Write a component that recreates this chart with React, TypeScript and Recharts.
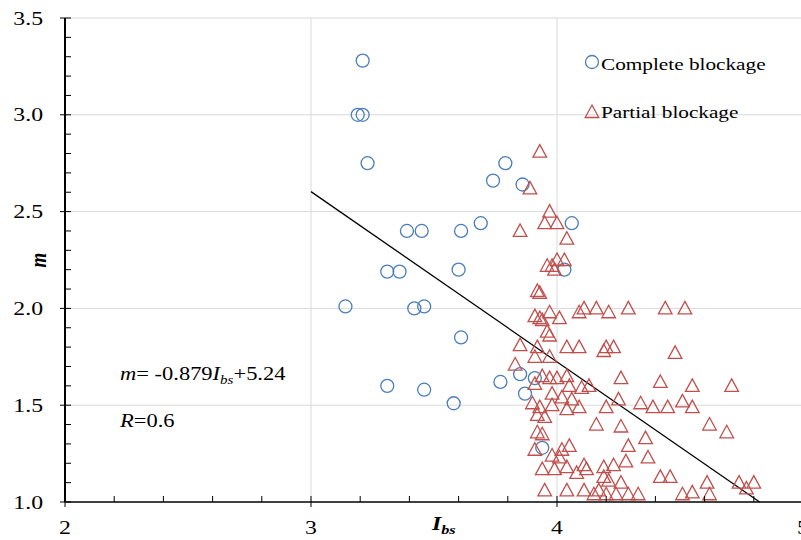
import React from "react";
import { ScatterChart, Scatter, XAxis, YAxis, ReferenceLine } from "recharts";

// I_bs vs m
const completeBlockage = [
  { ibs: 3.21, m: 3.28 }, { ibs: 3.19, m: 3.0 }, { ibs: 3.21, m: 3.0 }, { ibs: 3.23, m: 2.75 },
  { ibs: 3.79, m: 2.75 }, { ibs: 3.74, m: 2.66 }, { ibs: 3.86, m: 2.64 }, { ibs: 3.69, m: 2.44 },
  { ibs: 3.61, m: 2.4 }, { ibs: 3.45, m: 2.4 }, { ibs: 3.39, m: 2.4 }, { ibs: 4.06, m: 2.44 },
  { ibs: 3.31, m: 2.19 }, { ibs: 3.36, m: 2.19 }, { ibs: 3.6, m: 2.2 }, { ibs: 4.03, m: 2.2 },
  { ibs: 3.14, m: 2.01 }, { ibs: 3.42, m: 2.0 }, { ibs: 3.46, m: 2.01 }, { ibs: 3.61, m: 1.85 },
  { ibs: 3.31, m: 1.6 }, { ibs: 3.46, m: 1.58 }, { ibs: 3.58, m: 1.51 }, { ibs: 3.77, m: 1.62 },
  { ibs: 3.87, m: 1.56 }, { ibs: 3.94, m: 1.28 }, { ibs: 3.85, m: 1.66 }, { ibs: 3.91, m: 1.64 },
];

const partialBlockage = [
  { ibs: 3.93, m: 2.81 }, { ibs: 3.89, m: 2.62 }, { ibs: 3.97, m: 2.5 }, { ibs: 3.95, m: 2.44 },
  { ibs: 4.0, m: 2.44 }, { ibs: 3.85, m: 2.4 }, { ibs: 4.04, m: 2.36 }, { ibs: 4.0, m: 2.25 },
  { ibs: 4.03, m: 2.25 }, { ibs: 3.96, m: 2.22 }, { ibs: 3.98, m: 2.22 }, { ibs: 3.99, m: 2.2 },
  { ibs: 3.92, m: 2.09 }, { ibs: 3.93, m: 2.08 },
  { ibs: 3.91, m: 1.96 }, { ibs: 3.93, m: 1.95 }, { ibs: 3.94, m: 1.94 }, { ibs: 3.97, m: 1.98 },
  { ibs: 4.01, m: 1.95 }, { ibs: 3.96, m: 1.88 }, { ibs: 3.97, m: 1.86 },
  { ibs: 4.09, m: 1.98 }, { ibs: 4.11, m: 2.0 }, { ibs: 4.16, m: 2.0 }, { ibs: 4.21, m: 1.98 },
  { ibs: 4.29, m: 2.0 }, { ibs: 4.44, m: 2.0 }, { ibs: 4.52, m: 2.0 },
  { ibs: 3.85, m: 1.81 }, { ibs: 3.92, m: 1.8 }, { ibs: 4.04, m: 1.8 }, { ibs: 4.09, m: 1.8 },
  { ibs: 4.19, m: 1.78 }, { ibs: 4.2, m: 1.8 }, { ibs: 4.23, m: 1.8 }, { ibs: 4.48, m: 1.77 },
  { ibs: 3.83, m: 1.71 }, { ibs: 3.91, m: 1.75 }, { ibs: 3.97, m: 1.75 },
  { ibs: 3.91, m: 1.61 }, { ibs: 3.94, m: 1.65 }, { ibs: 3.97, m: 1.64 }, { ibs: 4.0, m: 1.64 },
  { ibs: 4.04, m: 1.65 }, { ibs: 4.05, m: 1.6 }, { ibs: 4.1, m: 1.59 }, { ibs: 4.13, m: 1.6 },
  { ibs: 4.26, m: 1.64 }, { ibs: 4.42, m: 1.62 }, { ibs: 4.55, m: 1.6 }, { ibs: 4.71, m: 1.6 },
  { ibs: 3.98, m: 1.56 }, { ibs: 4.02, m: 1.54 }, { ibs: 4.06, m: 1.53 }, { ibs: 3.9, m: 1.51 },
  { ibs: 3.93, m: 1.49 }, { ibs: 3.98, m: 1.5 }, { ibs: 4.04, m: 1.48 }, { ibs: 4.09, m: 1.49 },
  { ibs: 4.2, m: 1.49 }, { ibs: 4.25, m: 1.53 }, { ibs: 4.34, m: 1.51 }, { ibs: 4.39, m: 1.49 },
  { ibs: 4.45, m: 1.49 }, { ibs: 4.51, m: 1.52 }, { ibs: 4.55, m: 1.49 },
  { ibs: 3.92, m: 1.45 }, { ibs: 3.95, m: 1.44 }, { ibs: 4.16, m: 1.4 }, { ibs: 4.26, m: 1.39 },
  { ibs: 4.62, m: 1.4 }, { ibs: 4.69, m: 1.36 }, { ibs: 3.92, m: 1.36 }, { ibs: 3.94, m: 1.35 },
  { ibs: 4.36, m: 1.33 }, { ibs: 4.29, m: 1.29 },
  { ibs: 3.91, m: 1.27 }, { ibs: 4.05, m: 1.29 }, { ibs: 4.02, m: 1.27 }, { ibs: 3.98, m: 1.24 },
  { ibs: 4.01, m: 1.23 }, { ibs: 4.37, m: 1.23 },
  { ibs: 3.94, m: 1.17 }, { ibs: 3.99, m: 1.17 }, { ibs: 4.04, m: 1.18 }, { ibs: 4.08, m: 1.15 },
  { ibs: 4.11, m: 1.19 }, { ibs: 4.12, m: 1.17 }, { ibs: 4.19, m: 1.18 }, { ibs: 4.23, m: 1.19 },
  { ibs: 4.28, m: 1.21 },
  { ibs: 4.19, m: 1.13 }, { ibs: 4.21, m: 1.11 }, { ibs: 4.26, m: 1.1 }, { ibs: 4.42, m: 1.13 },
  { ibs: 4.46, m: 1.13 }, { ibs: 4.61, m: 1.1 }, { ibs: 4.74, m: 1.1 }, { ibs: 4.77, m: 1.07 },
  { ibs: 4.8, m: 1.1 },
  { ibs: 3.95, m: 1.06 }, { ibs: 4.04, m: 1.06 }, { ibs: 4.11, m: 1.06 }, { ibs: 4.17, m: 1.06 },
  { ibs: 4.15, m: 1.04 }, { ibs: 4.2, m: 1.04 }, { ibs: 4.24, m: 1.04 }, { ibs: 4.29, m: 1.04 },
  { ibs: 4.33, m: 1.04 }, { ibs: 4.51, m: 1.04 }, { ibs: 4.55, m: 1.05 }, { ibs: 4.62, m: 1.04 },
];

const xTicks = [2, 2.2, 2.4, 2.6, 2.8, 3, 3.2, 3.4, 3.6, 3.8, 4, 4.2, 4.4, 4.6, 4.8, 5];
const yTicks = [1, 1.1, 1.2, 1.3, 1.4, 1.5, 1.6, 1.7, 1.8, 1.9, 2, 2.1, 2.2, 2.3, 2.4, 2.5, 2.6, 2.7, 2.8, 2.9, 3, 3.1, 3.2, 3.3, 3.4, 3.5];
const xGrid = [3, 4, 5];
const yGrid = [1.5, 2, 2.5, 3, 3.5];

// fitted line m = -0.879 Ibs + 5.24
const fitSlope = -0.879;
const fitIntercept = 5.24;
const fitFrom = 3;
const fitTo = (1 - fitIntercept) / fitSlope;

const SERIF = '"Liberation Serif", "Times New Roman", Times, serif';
const SX = 1.25; // the original figure is stretched sideways
const BLUE = "#4A7EBB";
const RED = "#C0504D";

const isMajor = (v: number, step: number) => Math.abs(v / step - Math.round(v / step)) < 1e-6;

const XTick = (props: any) => {
  const { x, y, payload } = props;
  const v = payload.value;
  const major = isMajor(v, 1);
  return (
    <g>
      <line x1={x} x2={x} y1={y - 6} y2={major ? y + 5 : y} stroke="#000" strokeWidth={1} />
      {major && (
        <text transform={`translate(${x},${y + 32}) scale(${SX},1)`} textAnchor="middle" style={{ fontFamily: SERIF }} fontSize={19} fill="#000">
          {v}
        </text>
      )}
    </g>
  );
};

const YTick = (props: any) => {
  const { x, y, payload } = props;
  const v = payload.value;
  const major = isMajor(v, 0.5);
  return (
    <g>
      <line x1={major ? x - 5 : x} x2={x + 6} y1={y} y2={y} stroke="#000" strokeWidth={1} />
      {major && (
        <text transform={`translate(${x - 22},${y}) scale(${SX},1)`} dy="0.35em" textAnchor="end" style={{ fontFamily: SERIF }} fontSize={19} fill="#000">
          {v.toFixed(1)}
        </text>
      )}
    </g>
  );
};

const Ring = (p: any) => <circle cx={p.cx} cy={p.cy} r={6.5} fill="none" stroke={BLUE} strokeWidth={1.3} />;

const Tri = (p: any) => (
  <polygon
    points={`${p.cx},${p.cy - 7} ${p.cx + 6.8},${p.cy + 5.5} ${p.cx - 6.8},${p.cy + 5.5}`}
    fill="none"
    stroke={RED}
    strokeWidth={1.3}
  />
);

export default function App() {
  return (
    <div style={{ position: "fixed", left: 0, top: 0, width: 801, height: 540, overflow: "hidden", background: "#fff" }}>
      <ScatterChart width={830} height={540} margin={{ top: 18, right: 27, bottom: 8, left: 15 }}>
        {xGrid.map((v) => (
          <ReferenceLine key={`gx${v}`} x={v} stroke="#D9D9D9" strokeWidth={1} />
        ))}
        {yGrid.map((v) => (
          <ReferenceLine key={`gy${v}`} y={v} stroke="#D9D9D9" strokeWidth={1} />
        ))}
        <XAxis
          type="number"
          dataKey="ibs"
          domain={[2, 5]}
          ticks={xTicks}
          interval={0}
          allowDataOverflow
          height={30}
          tickSize={0}
          tickMargin={0}
          tickLine={false}
          tick={XTick}
          axisLine={{ stroke: "#000", strokeWidth: 1.5 }}
        />
        <YAxis
          type="number"
          dataKey="m"
          domain={[1, 3.5]}
          ticks={yTicks}
          interval={0}
          allowDataOverflow
          width={50}
          tickSize={0}
          tickMargin={0}
          tickLine={false}
          tick={YTick}
          axisLine={{ stroke: "#000", strokeWidth: 2 }}
        />
        <ReferenceLine
          segment={[
            { x: fitFrom, y: fitSlope * fitFrom + fitIntercept },
            { x: fitTo, y: fitSlope * fitTo + fitIntercept },
          ]}
          stroke="#000"
          strokeWidth={1.3}
        />
        <Scatter name="Complete blockage" data={completeBlockage} shape={Ring} isAnimationActive={false} />
        <Scatter name="Partial blockage" data={partialBlockage} shape={Tri} isAnimationActive={false} />
      </ScatterChart>

      {/* legend, equation and axis titles */}
      <svg width={801} height={540} style={{ position: "absolute", left: 0, top: 0, pointerEvents: "none", fontFamily: SERIF }}>
        <circle cx={592} cy={62} r={6.5} fill="none" stroke={BLUE} strokeWidth={1.3} />
        <text transform={`translate(601,70) scale(${SX},1)`} fontSize={17}>Complete blockage</text>
        <polygon points="592,105 598.8,117.5 585.2,117.5" fill="none" stroke={RED} strokeWidth={1.3} />
        <text transform={`translate(601,118) scale(${SX},1)`} fontSize={17}>Partial blockage</text>

        <text transform={`translate(120,380) scale(${SX},1)`} fontSize={18}>
          <tspan fontStyle="italic">m</tspan>= -0.879<tspan fontStyle="italic">I</tspan>
          <tspan fontStyle="italic" fontSize={12} dy={4}>bs</tspan>
          <tspan dy={-4}>+5.24</tspan>
        </text>
        <text transform={`translate(120,427) scale(${SX},1)`} fontSize={18}>
          <tspan fontStyle="italic">R</tspan>=0.6
        </text>

        <text transform={`translate(432,530) scale(${SX},1)`} fontSize={19} fontWeight="bold" fontStyle="italic">
          I<tspan fontSize={13} dy={4}>bs</tspan>
        </text>
        <text transform={`translate(46,260) rotate(-90) scale(1,${SX})`} textAnchor="middle" fontSize={19} fontWeight="bold" fontStyle="italic">
          m
        </text>
      </svg>
    </div>
  );
}
